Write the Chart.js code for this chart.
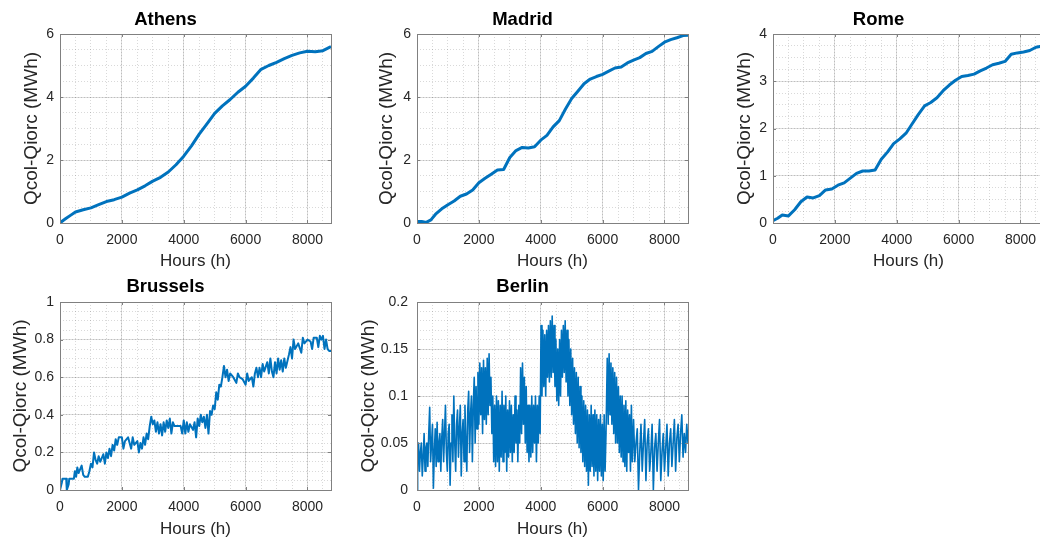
<!DOCTYPE html>
<html>
<head>
<meta charset="utf-8">
<script src="https://cdn.jsdelivr.net/npm/chart.js@4.4.1/dist/chart.umd.min.js"></script>
<style>
html,body{margin:0;padding:0;background:#fff;width:1040px;height:541px;overflow:hidden;position:relative;}
canvas{position:absolute;}
</style>
</head>
<body>
<canvas id="c0"></canvas><canvas id="c1"></canvas><canvas id="c2"></canvas><canvas id="c3"></canvas><canvas id="c4"></canvas>
<script>
// ---- Data: [hour, value in MWh] ----
const xTicks = [0, 2000, 4000, 6000, 8000];
const xMax = 8760;
const cities = ["Athens", "Madrid", "Rome", "Brussels", "Berlin"];

const athens = [[0,0],[100,0.08],[200,0.15],[350,0.25],[500,0.35],[750,0.42],[1000,0.48],[1250,0.58],[1500,0.68],[1750,0.74],[2000,0.82],[2250,0.95],[2500,1.05],[2750,1.18],[3000,1.33],[3250,1.45],[3500,1.62],[3750,1.85],[4000,2.12],[4250,2.45],[4500,2.82],[4750,3.15],[5000,3.48],[5250,3.72],[5500,3.92],[5750,4.15],[6000,4.34],[6250,4.6],[6500,4.88],[6750,5.0],[7000,5.1],[7250,5.22],[7500,5.32],[7750,5.4],[8000,5.45],[8250,5.44],[8500,5.47],[8760,5.6]];

const madrid = [[0,0.05],[150,0.05],[300,0.02],[450,0.1],[600,0.28],[800,0.45],[1000,0.58],[1200,0.7],[1400,0.85],[1600,0.92],[1800,1.05],[2000,1.28],[2200,1.42],[2400,1.55],[2600,1.68],[2800,1.7],[3000,2.08],[3200,2.3],[3400,2.4],[3600,2.38],[3800,2.42],[4000,2.63],[4200,2.78],[4400,3.05],[4600,3.25],[4800,3.62],[5000,3.95],[5200,4.18],[5400,4.42],[5600,4.57],[5800,4.65],[6000,4.72],[6200,4.82],[6400,4.92],[6600,4.95],[6800,5.08],[7000,5.17],[7200,5.25],[7400,5.38],[7600,5.45],[7800,5.6],[8000,5.74],[8200,5.82],[8400,5.88],[8600,5.95],[8760,5.96]];

const rome = [[0,0.05],[150,0.1],[300,0.17],[500,0.15],[700,0.28],[900,0.45],[1100,0.55],[1300,0.53],[1500,0.58],[1700,0.7],[1900,0.72],[2100,0.8],[2300,0.85],[2500,0.95],[2700,1.05],[2900,1.1],[3100,1.1],[3300,1.12],[3500,1.35],[3700,1.5],[3900,1.68],[4100,1.78],[4300,1.9],[4500,2.1],[4700,2.3],[4900,2.48],[5100,2.55],[5300,2.65],[5500,2.8],[5700,2.92],[5900,3.02],[6100,3.1],[6300,3.12],[6500,3.15],[6700,3.22],[6900,3.28],[7100,3.35],[7300,3.38],[7500,3.42],[7700,3.57],[7900,3.6],[8100,3.62],[8300,3.65],[8500,3.72],[8760,3.75]];

const brussels = [[0,0],[60,0.04],[80,0.06],[200,0.06],[220,0],[280,0.03],[300,0.06],[450,0.06],[480,0.1],[520,0.07],[560,0.12],[600,0.09],[650,0.11],[700,0.13],[750,0.08],[800,0.07],[900,0.07],[950,0.1],[1000,0.14],[1050,0.12],[1100,0.2],[1150,0.16],[1200,0.14],[1250,0.18],[1300,0.15],[1400,0.19],[1450,0.14],[1500,0.2],[1550,0.17],[1600,0.22],[1650,0.18],[1700,0.24],[1750,0.21],[1800,0.27],[1850,0.24],[1900,0.28],[2000,0.28],[2050,0.22],[2100,0.26],[2200,0.28],[2300,0.22],[2350,0.28],[2400,0.24],[2500,0.26],[2550,0.2],[2600,0.25],[2650,0.22],[2700,0.28],[2750,0.24],[2800,0.3],[2850,0.27],[2900,0.34],[2950,0.39],[3000,0.35],[3050,0.37],[3100,0.31],[3150,0.36],[3200,0.3],[3250,0.35],[3300,0.29],[3350,0.36],[3400,0.31],[3450,0.37],[3500,0.33],[3550,0.38],[3600,0.3],[3650,0.36],[3700,0.34],[3800,0.34],[3900,0.34],[3950,0.3],[4000,0.37],[4050,0.3],[4100,0.36],[4150,0.31],[4200,0.35],[4300,0.32],[4350,0.36],[4400,0.28],[4450,0.38],[4500,0.34],[4550,0.4],[4600,0.36],[4650,0.39],[4700,0.33],[4750,0.4],[4800,0.3],[4850,0.42],[4900,0.4],[4950,0.45],[5000,0.43],[5050,0.52],[5100,0.48],[5150,0.56],[5200,0.55],[5250,0.6],[5300,0.66],[5350,0.6],[5400,0.64],[5450,0.58],[5500,0.62],[5600,0.6],[5700,0.57],[5750,0.62],[5800,0.6],[5900,0.59],[6000,0.56],[6050,0.62],[6100,0.58],[6200,0.6],[6250,0.55],[6300,0.62],[6350,0.65],[6400,0.6],[6450,0.65],[6500,0.6],[6550,0.67],[6600,0.63],[6700,0.68],[6750,0.62],[6800,0.7],[6850,0.63],[6900,0.6],[6950,0.68],[7000,0.62],[7050,0.7],[7100,0.64],[7150,0.69],[7200,0.63],[7250,0.7],[7300,0.65],[7400,0.72],[7450,0.76],[7500,0.7],[7550,0.8],[7600,0.75],[7700,0.78],[7800,0.73],[7850,0.81],[7900,0.78],[8000,0.8],[8100,0.79],[8150,0.75],[8200,0.81],[8300,0.81],[8350,0.76],[8400,0.82],[8450,0.8],[8500,0.82],[8550,0.75],[8600,0.8],[8650,0.75],[8700,0.74],[8760,0.74]];

const berlin = [[0,0],[20,0.03],[50,0.05],[80,0.02],[110,0.04],[140,0.05],[170,0.015],[200,0.035],[230,0.06],[260,0.02],[290,0.045],[320,0.05],[350,0.025],[380,0.06],[410,0.088],[440,0.03],[470,0.05],[500,0.07],[530,0.002],[560,0.04],[590,0.065],[620,0.025],[650,0.072],[680,0.03],[710,0.05],[740,0.06],[770,0.02],[800,0.055],[830,0.075],[860,0.03],[890,0.06],[920,0.09],[950,0.04],[980,0.02],[1010,0.06],[1040,0.07],[1070,0.005],[1100,0.05],[1130,0.08],[1160,0.03],[1190,0.1],[1220,0.05],[1250,0.02],[1280,0.07],[1310,0.085],[1340,0.035],[1370,0.065],[1400,0.09],[1430,0.015],[1460,0.06],[1490,0.075],[1520,0.03],[1550,0.09],[1580,0.05],[1610,0.02],[1640,0.085],[1670,0.105],[1700,0.04],[1730,0.08],[1760,0.1],[1790,0.03],[1820,0.09],[1850,0.12],[1880,0.05],
[1910,0.11],[1940,0.065],[1970,0.125],[2000,0.07],[2030,0.135],[2060,0.08],[2090,0.13],[2120,0.06],[2150,0.138],[2180,0.075],[2210,0.13],[2240,0.07],[2270,0.14],[2300,0.08],[2330,0.145],[2360,0.09],[2390,0.12],[2420,0.06],
[2450,0.1],[2480,0.03],[2510,0.09],[2540,0.025],[2570,0.1],[2600,0.03],[2630,0.095],[2660,0.02],[2690,0.09],[2720,0.035],[2750,0.105],[2780,0.03],[2810,0.09],[2840,0.04],[2870,0.1],[2900,0.02],[2930,0.085],[2960,0.035],[2990,0.095],[3020,0.04],[3050,0.09],[3080,0.03],[3110,0.08],[3140,0.04],[3170,0.1],[3200,0.05],[3230,0.085],[3260,0.03],[3290,0.09],
[3320,0.05],[3350,0.13],[3380,0.06],[3410,0.135],[3440,0.07],[3470,0.12],[3500,0.05],[3530,0.11],[3560,0.04],[3590,0.09],[3620,0.03],
[3650,0.09],[3680,0.035],[3710,0.1],[3740,0.04],[3770,0.09],[3800,0.05],[3830,0.1],[3860,0.03],[3890,0.09],[3920,0.05],[3950,0.1],[3980,0.06],
[4010,0.175],[4040,0.1],[4070,0.17],[4100,0.11],[4130,0.165],[4160,0.1],[4190,0.17],[4220,0.12],[4250,0.175],[4280,0.115],[4310,0.18],[4340,0.12],[4370,0.185],[4400,0.125],[4430,0.175],[4460,0.11],
[4490,0.16],[4520,0.095],[4550,0.15],[4580,0.09],[4610,0.16],[4640,0.1],
[4670,0.17],[4700,0.12],[4730,0.175],[4760,0.125],[4790,0.18],[4820,0.115],[4850,0.17],[4880,0.1],
[4910,0.16],[4940,0.09],[4970,0.15],[5000,0.08],[5030,0.14],[5060,0.07],[5090,0.13],[5120,0.06],[5150,0.125],[5180,0.05],[5210,0.12],[5240,0.045],[5270,0.11],[5300,0.04],[5330,0.1],[5360,0.03],[5390,0.095],[5420,0.025],[5450,0.09],[5480,0.02],[5510,0.085],[5540,0.005],[5570,0.08],
[5600,0.02],[5630,0.09],[5660,0.025],[5690,0.08],[5720,0.015],[5750,0.085],[5780,0.02],[5810,0.08],[5840,0.01],[5870,0.075],[5900,0.02],[5930,0.08],[5960,0.015],[5990,0.07],[6020,0.01],[6050,0.08],[6080,0.02],[6110,0.06],
[6150,0.14],[6180,0.07],[6210,0.145],[6240,0.08],[6270,0.135],[6300,0.07],
[6330,0.13],[6360,0.06],[6390,0.125],[6420,0.05],[6450,0.12],[6480,0.05],[6510,0.11],[6540,0.04],[6570,0.1],[6600,0.035],[6630,0.1],[6660,0.03],[6690,0.09],[6720,0.025],[6750,0.095],[6780,0.02],[6810,0.085],[6840,0.04],[6870,0.08],[6900,0.02],[6930,0.09],[6960,0.03],
[7000,0.075],[7040,0.03],[7080,0.05],[7120,0.065],[7160,0],[7200,0.04],[7240,0.07],[7280,0.02],[7320,0.05],[7360,0.075],[7400,0.01],[7440,0.05],[7480,0.065],[7520,0.02],[7560,0.04],[7600,0.07],[7640,0],[7680,0.045],[7720,0.06],[7760,0.02],[7800,0.05],[7840,0.075],[7880,0.01],[7920,0.04],[7960,0.06],[8000,0.02],[8040,0.045],[8080,0.07],[8120,0.015],[8160,0.05],[8200,0.065],[8240,0.025],[8280,0.05],[8320,0.075],[8360,0.02],[8400,0.055],[8440,0.07],[8480,0.03],[8520,0.06],[8560,0.08],[8600,0.035],[8640,0.06],[8680,0.04],[8720,0.07],[8760,0.05]];

const seriesList = [athens, madrid, rome, brussels, berlin];
const yMax = [6, 6, 4, 1, 0.2];
const yTickLabels = [[0,2,4,6],[0,2,4,6],[0,1,2,3,4],[0,0.2,0.4,0.6,0.8,1],[0,0.05,0.1,0.15,0.2]];
const yMinorStep = [0.5, 0.5, 0.25, 0.05, 0.01];
const xMinorStep = 500;

// ---- Layout / styling ----
const FONT = "'Liberation Sans', Arial, Helvetica, sans-serif";
const LINE = '#0072BD';
const lineWidths = [3, 3, 3, 2, 1.6];
const panels = [
  {left: 0,   top: 0,   w: 340, h: 270, xh: 47, tp: 8.9, tb: 2.9, xtb: -2, ytp: 20.6, ypad: 6},
  {left: 357, top: 0,   w: 340, h: 270, xh: 47, tp: 8.9, tb: 2.9, xtb: -2, ytp: 18.6, ypad: 6},
  {left: 713, top: 0,   w: 340, h: 270, xh: 47, tp: 8.9, tb: 2.9, xtb: -2, ytp: 20.6, ypad: 6},
  {left: 0,   top: 268, w: 340, h: 273, xh: 51, tp: 7.9, tb: 3.9, xtb: 1, ytp: 9.6, ypad: 6},
  {left: 357, top: 268, w: 340, h: 273, xh: 51, tp: 7.9, tb: 3.9, xtb: 1, ytp: 0, ypad: 9}
];

const fmt = v => String(+(+v).toFixed(4));
const stepTicks = (max, step) => {
  const out = [];
  for (let k = 0; k * step <= max + 1e-9; k++) out.push({value: +(k * step).toFixed(6)});
  return out;
};

const framePlugin = {
  id: 'frame',
  afterDatasetsDraw(chart) {
    const {ctx, chartArea: a, scales} = chart;
    ctx.save();
    ctx.strokeStyle = '#808080';
    ctx.lineWidth = 1;
    ctx.strokeRect(Math.round(a.left) + 0.5, Math.round(a.top) + 0.5, Math.round(a.right - a.left), Math.round(a.bottom - a.top));
    const L = 3;
    ctx.beginPath();
    scales.x.ticks.forEach(t => {
      const px = Math.round(scales.x.getPixelForValue(t.value)) + 0.5;
      ctx.moveTo(px, a.bottom); ctx.lineTo(px, a.bottom - L);
      ctx.moveTo(px, a.top); ctx.lineTo(px, a.top + L);
    });
    scales.y.ticks.forEach(t => {
      const py = Math.round(scales.y.getPixelForValue(t.value)) + 0.5;
      ctx.moveTo(a.left, py); ctx.lineTo(a.left + L, py);
      ctx.moveTo(a.right, py); ctx.lineTo(a.right - L, py);
    });
    ctx.stroke();
    ctx.restore();
  }
};

panels.forEach((p, i) => {
  const cv = document.getElementById('c' + i);
  cv.style.left = p.left + 'px';
  cv.style.top = p.top + 'px';
  cv.style.width = p.w + 'px';
  cv.style.height = p.h + 'px';
  cv.width = p.w; cv.height = p.h;
  new Chart(cv, {
    type: 'line',
    data: {
      datasets: [{
        data: seriesList[i].map(([x, y]) => ({x, y})),
        borderColor: LINE,
        borderWidth: lineWidths[i],
        pointRadius: 0,
        tension: 0,
        fill: false,
        borderJoinStyle: 'round'
      }]
    },
    options: {
      responsive: false,
      animation: false,
      events: [],
      layout: {padding: {left: 0, right: 9, top: 0, bottom: 0}},
      plugins: {
        legend: {display: false},
        tooltip: {enabled: false},
        title: {
          display: true,
          text: cities[i],
          color: '#000',
          font: {family: FONT, size: 18.5, weight: 'bold'},
          padding: {top: p.tp, bottom: p.tb}
        }
      },
      scales: {
        xm: {
          type: 'linear', position: 'bottom', min: 0, max: xMax,
          ticks: {display: false, autoSkip: false},
          afterBuildTicks: s => { s.ticks = stepTicks(xMax, xMinorStep).filter(t => t.value < xMax); },
          grid: {color: 'rgba(0,0,0,0.15)', lineWidth: 1, drawTicks: false},
          border: {display: false, dash: [1, 2]},
          afterFit: s => { s.height = 0; }
        },
        ym: {
          type: 'linear', position: 'left', min: 0, max: yMax[i],
          ticks: {display: false, autoSkip: false},
          afterBuildTicks: s => { s.ticks = stepTicks(yMax[i], yMinorStep[i]); },
          grid: {color: 'rgba(0,0,0,0.15)', lineWidth: 1, drawTicks: false},
          border: {display: false, dash: [1, 2]},
          afterFit: s => { s.width = 0; }
        },
        x: {
          type: 'linear', position: 'bottom', min: 0, max: xMax,
          ticks: {autoSkip: false, padding: 9, color: '#262626', font: {family: FONT, size: 14}, callback: fmt, maxRotation: 0},
          afterBuildTicks: s => { s.ticks = xTicks.map(v => ({value: v})); },
          grid: {color: 'rgba(0,0,0,0.13)', lineWidth: 1, drawTicks: false},
          border: {display: false},
          title: {display: true, text: 'Hours (h)', color: '#262626', font: {family: FONT, size: 17}, padding: {top: 0, bottom: p.xtb}},
          afterFit: s => { s.height = p.xh; }
        },
        y: {
          type: 'linear', position: 'left', min: 0, max: yMax[i],
          ticks: {autoSkip: false, padding: p.ypad, color: '#262626', font: {family: FONT, size: 14}, callback: fmt},
          afterBuildTicks: s => { s.ticks = yTickLabels[i].map(v => ({value: v})); },
          grid: {color: 'rgba(0,0,0,0.13)', lineWidth: 1, drawTicks: false},
          border: {display: false},
          title: {display: true, text: 'Qcol-Qiorc (MWh)', color: '#262626', font: {family: FONT, size: 19}, padding: {top: p.ytp, bottom: 0}},
          afterFit: s => { s.width = 60; }
        }
      }
    },
    plugins: [framePlugin]
  });
});
</script>
</body>
</html>
